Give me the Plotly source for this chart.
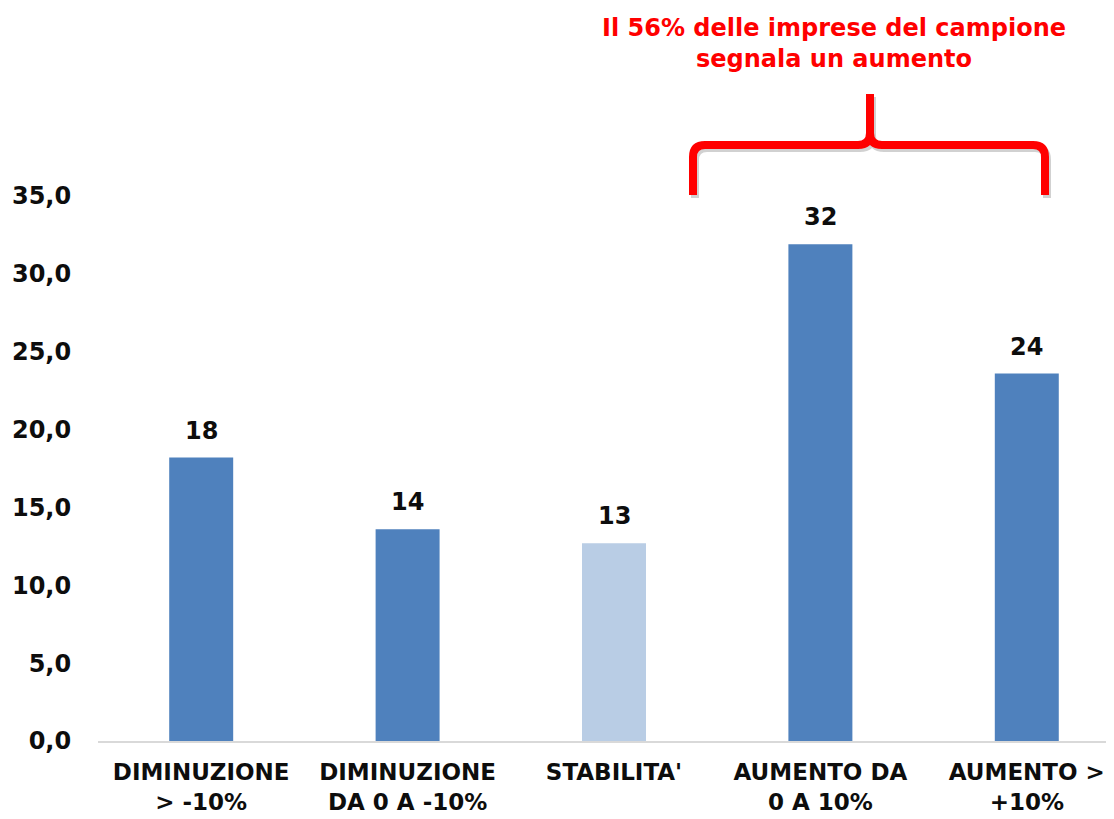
import plotly.graph_objects as go

categories = ["DIMINUZIONE<br>> -10%", "DIMINUZIONE<br>DA 0 A -10%", "STABILITA'", "AUMENTO DA<br>0 A 10%", "AUMENTO ><br>+10%"]
values = [18.2, 13.6, 12.7, 31.9, 23.6]
labels = ["18", "14", "13", "32", "24"]
colors = ["#4F81BD", "#4F81BD", "#B9CDE5", "#4F81BD", "#4F81BD"]
title_text = "Il 56% delle imprese del campione<br>segnala un aumento"

OFF = 8  # page body margin
W, H = 1114 - OFF, 819 - OFF
L, T = 98 - OFF, 196 - OFF
AXIS_Y = 741 - OFF
R, B = 0, H - AXIS_Y
pw, ph = W - L - R, H - T - B

def px(x):
    return (x - OFF - L) / pw

def py(y):
    return (AXIS_Y - (y - OFF)) / ph

FONT = "DejaVu Sans"
TXT = "#0D0D0D"

fig = go.Figure()
fig.add_trace(go.Bar(x=categories, y=values, marker=dict(color=colors, line=dict(width=0)),
                     width=0.31, hoverinfo="skip"))

for c, v, t in zip(categories, values, labels):
    fig.add_annotation(x=c, y=v, text=t, showarrow=False, yanchor="bottom", yshift=11,
                       font=dict(family=FONT, size=24, color=TXT, weight="bold"))

fig.add_annotation(xref="paper", yref="paper", x=px(834), y=py(43), text=title_text,
                   showarrow=False, xanchor="center", yanchor="middle",
                   font=dict(family=FONT, size=24, color="#FF0000", weight="bold"))

def bracket_path(dx=0, dy=0):
    pts = lambda x, y: f"{px(x+dx)},{py(y+dy)}"
    return (f"M {pts(693,195)} L {pts(693,157)} Q {pts(693,145)} {pts(705,145)} "
            f"L {pts(858,145)} Q {pts(870,145)} {pts(870,133)} L {pts(870,94)} "
            f"M {pts(870,133)} Q {pts(870,145)} {pts(882,145)} "
            f"L {pts(1033,145)} Q {pts(1045,145)} {pts(1045,157)} L {pts(1045,195)}")

fig.add_shape(type="path", xref="paper", yref="paper", path=bracket_path(2, 3),
              line=dict(color="rgba(0,0,0,0.18)", width=8))
fig.add_shape(type="path", xref="paper", yref="paper", path=bracket_path(),
              line=dict(color="#FF0000", width=8))

fig.update_layout(
    width=W, height=H,
    margin=dict(l=L, r=R, t=T, b=B, pad=0, autoexpand=False),
    plot_bgcolor="white", paper_bgcolor="white",
    showlegend=False,
    separators=",.",
    xaxis=dict(range=[-0.5, 4.5 - 16/206.5], showgrid=False, zeroline=False, automargin=False,
               showline=True, linecolor="#D9D9D9", linewidth=2,
               ticks="outside", tickcolor="rgba(0,0,0,0)", ticklen=9,
               tickfont=dict(family=FONT, size=23, color=TXT, weight="bold")),
    yaxis=dict(range=[0, 35], dtick=5, tickformat=".1f", showgrid=False, zeroline=False,
               automargin=False,
               showline=False, ticks="outside", tickcolor="rgba(0,0,0,0)", ticklen=21,
               tickfont=dict(family=FONT, size=24, color=TXT, weight="bold")),
)

fig.write_html("out.html")
